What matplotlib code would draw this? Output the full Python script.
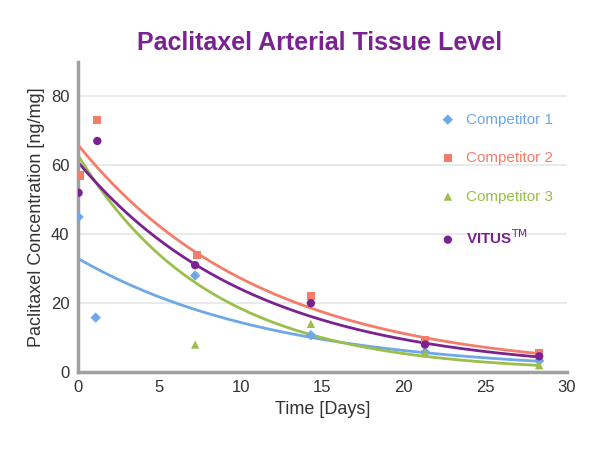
import numpy as np
import matplotlib
matplotlib.use("Agg")
import matplotlib.pyplot as plt

names = ["Competitor 1", "Competitor 2", "Competitor 3", "VITUS$^{\\mathrm{TM}}$"]
colors = ["#6fa8e6", "#f47c6a", "#9bbf4a", "#7a2290"]
markers = ["D", "s", "^", "o"]
c1_x = [0.05, 1.1, 7.2, 14.3, 21.3, 28.3]
c1_y = [45, 15.8, 28, 10.7, 5.8, 3.3]
c2_x = [0.1, 1.2, 7.3, 14.3, 21.3, 28.3]
c2_y = [57, 73, 34, 22, 9.2, 5.5]
c3_x = [7.2, 14.3, 21.3, 28.3]
c3_y = [8, 14, 5.5, 2]
v_x = [0.05, 1.2, 7.2, 14.3, 21.3, 28.3]
v_y = [52, 67, 31, 20, 8, 4.6]
fit_a = [33, 66, 63, 61]
fit_b = [0.083, 0.0887, 0.123, 0.093]

plt.rcParams['font.family'] = ['Liberation Sans', 'DejaVu Sans']
fig = plt.figure(figsize=(5.98, 4.5), dpi=100)
ax = fig.add_axes([0.130, 0.173, 0.818, 0.69])
xs = [c1_x, c2_x, c3_x, v_x]
ys = [c1_y, c2_y, c3_y, v_y]
t = np.linspace(0, 28.3, 200)
for i in range(4):
    ax.plot(t, fit_a[i] * np.exp(-fit_b[i] * t), color=colors[i], lw=2, zorder=2)
for i in range(4):
    ax.scatter(xs[i], ys[i], color=colors[i], marker=markers[i], s=36 if i != 0 else 28,
               zorder=3, label=names[i], edgecolors="none")
ax.set_xlim(0, 30)
ax.set_ylim(0, 90)
ax.set_xticks(range(0, 31, 5))
ax.set_yticks(range(0, 81, 20))
ax.grid(axis="y", color="#e6e6e6", lw=1.2)
ax.set_axisbelow(True)
for s in ["top", "right"]:
    ax.spines[s].set_visible(False)
for s in ["left", "bottom"]:
    ax.spines[s].set_color("#a0a0a4")
    ax.spines[s].set_linewidth(2.5)
ax.tick_params(length=0, labelsize=12, colors="#333333", pad=6)
ax.set_xlabel("Time [Days]", fontsize=13, color="#333333")
ax.set_ylabel("Paclitaxel Concentration [ng/mg]", fontsize=13, color="#333333")
leg = ax.legend(loc="upper right", bbox_to_anchor=(1.0, 0.88), frameon=False,
                fontsize=11, labelspacing=1.6, handletextpad=0.7, handlelength=1)
for txt, c in zip(leg.get_texts(), colors):
    txt.set_color(c)
leg.get_texts()[3].set_fontweight("bold")
fig.text(0.535, 0.89, "Paclitaxel Arterial Tissue Level", ha="center", fontsize=18,
         fontweight="bold", color="#7a2290")
fig.savefig("out.png", dpi=100)
